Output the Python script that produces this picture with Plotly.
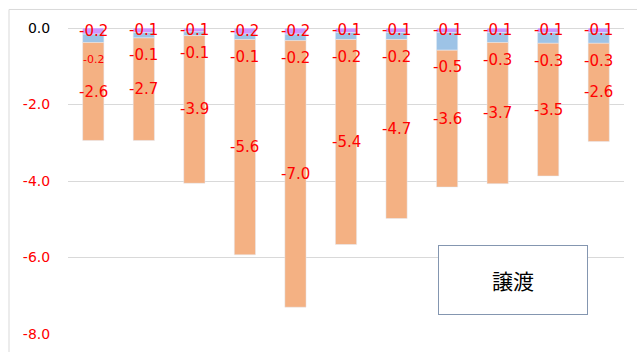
import plotly.graph_objects as go

categories = ["c01", "c02", "c03", "c04", "c05", "c06", "c07", "c08", "c09", "c10", "c11"]
purple_vals = [-0.16, -0.12, -0.10, -0.16, -0.16, -0.12, -0.12, -0.12, -0.12, -0.12, -0.12]
blue_vals = [-0.22, -0.14, -0.10, -0.14, -0.17, -0.18, -0.18, -0.46, -0.26, -0.28, -0.28]
orange_vals = [-2.56, -2.68, -3.86, -5.63, -6.97, -5.36, -4.68, -3.58, -3.69, -3.47, -2.57]
tick_vals = [0, -2, -4, -6, -8]
tick_text = ["0.0", "-2.0", "-4.0", "-6.0", "-8.0"]
box_label = "譲渡"

RED = "#FF0000"
LABEL_FONT = dict(family="DejaVu Sans", size=15, color=RED)

fig = go.Figure()
fig.add_trace(go.Bar(x=categories, y=purple_vals, marker_color="#CC99FF", hoverinfo="skip"))
fig.add_trace(go.Bar(x=categories, y=blue_vals, marker_color="#9DC3E6", hoverinfo="skip"))
fig.add_trace(go.Bar(x=categories, y=orange_vals, marker_color="#F4B183", hoverinfo="skip"))

annotations = []
for i, c in enumerate(categories):
    p, b, o = purple_vals[i], blue_vals[i], orange_vals[i]
    annotations.append(dict(x=c, y=p / 2, text=f"{p:.1f}", showarrow=False,
                            font=LABEL_FONT, yanchor="middle", xanchor="center"))
    annotations.append(dict(x=c, y=p + b - 0.45, text=f"{b:.1f}", showarrow=False,
                            font=dict(LABEL_FONT, size=11 if i == 0 else 15),
                            yanchor="middle", xanchor="center"))
    annotations.append(dict(x=c, y=p + b + o / 2, text=f"{o:.1f}", showarrow=False,
                            font=LABEL_FONT, yanchor="middle", xanchor="center"))

annotations.append(dict(xref="paper", yref="paper", x=0.80, y=0.175, text=box_label,
                        showarrow=False, font=dict(family="Noto Sans CJK JP", size=21, color="#000000"),
                        bordercolor="#8496B0", borderwidth=1, bgcolor="#FFFFFF",
                        width=146, height=66, xanchor="center", yanchor="middle"))

ticktext_html = [f'<span style="color:#000000">{t}</span>' if v == 0 else t
                 for v, t in zip(tick_vals, tick_text)]

fig.update_layout(
    barmode="relative",
    bargap=0.58,
    width=637, height=352,
    margin=dict(l=68, r=13, t=28, b=10),
    paper_bgcolor="#FFFFFF", plot_bgcolor="#FFFFFF",
    showlegend=False,
    annotations=annotations,
    xaxis=dict(showticklabels=False, showgrid=False, zeroline=False, showline=False,
               range=[-0.5, 10.5]),
    yaxis=dict(range=[-8, 0], tickvals=tick_vals, ticktext=ticktext_html,
               tickfont=dict(family="DejaVu Sans", size=14, color=RED),
               showgrid=True, gridcolor="#D9D9D9", gridwidth=1,
               zeroline=True, zerolinecolor="#D9D9D9", zerolinewidth=1,
               ticks="outside", ticklen=14, tickcolor="rgba(0,0,0,0)", showline=False),
    shapes=[dict(type="rect", xref="paper", yref="paper",
                 x0=(9 - 68) / 556, x1=(660 - 68) / 556,
                 y0=-0.2, y1=1 + 19 / 314,
                 line=dict(color="#D9D9D9", width=1), layer="below")],
)

fig.write_html("out.html")
